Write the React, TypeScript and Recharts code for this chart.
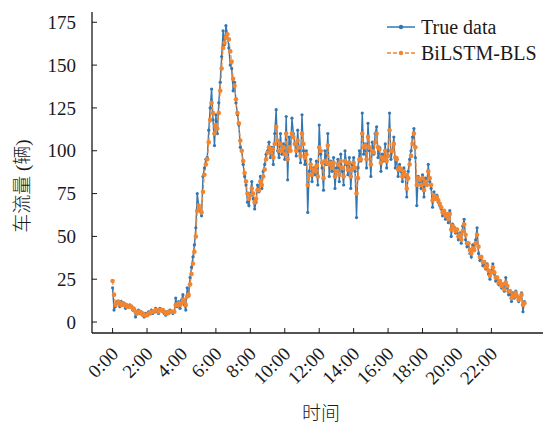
import React from 'react';
import { LineChart, Line, XAxis, YAxis, Legend } from 'recharts';

const TIME_LABELS = ['0:00', '2:00', '4:00', '6:00', '8:00', '10:00', '12:00', '14:00', '16:00', '18:00', '20:00', '22:00'];
const POINTS_PER_TICK = 24;
const Y_TICKS = [0, 25, 50, 75, 100, 125, 150, 175];

const TRUE_DATA = [
  20, 7, 9, 12, 11, 9, 12, 10, 11, 8, 10, 9,
  10, 9, 7, 8, 3, 6, 7, 5, 6, 4, 3, 5,
  4, 6, 5, 7, 5, 6, 8, 6, 5, 8, 7, 6,
  5, 4, 6, 5, 7, 6, 5, 6, 14, 9, 12, 8,
  13, 16, 10, 7, 20, 15, 26, 32, 38, 45, 55, 75,
  68, 65, 62, 85, 90, 95, 96, 112, 125, 136, 118, 103,
  121, 110, 128, 140, 155, 170, 162, 173, 168, 160, 150, 148,
  135, 140, 128, 121, 115, 102, 100, 92, 85, 80, 70, 68,
  75, 82, 72, 66, 70, 80, 76, 85, 78, 88, 92, 98,
  100, 105, 96, 102, 92, 110, 124, 100, 96, 110, 98, 104,
  95, 120, 83, 108, 100, 119, 110, 104, 97, 112, 100, 93,
  121, 100, 92, 100, 64, 88, 95, 82, 90, 86, 94, 80,
  115, 98, 90, 77, 100, 92, 110, 85, 94, 88, 96, 78,
  90, 95, 82, 98, 88, 80, 100, 92, 86, 96, 78, 92,
  96, 88, 61, 90, 100, 94, 122, 98, 104, 90, 116, 100,
  85, 105, 98, 110, 114, 96, 102, 88, 98, 94, 104, 90,
  100, 122, 95, 100, 108, 90, 96, 85, 92, 88, 82, 90,
  85, 73, 88, 95, 100, 108, 113, 96, 68, 85, 82, 78,
  86, 73, 84, 80, 92, 82, 78, 67, 76, 72, 74, 70,
  68, 66, 62, 65, 60, 63, 58, 65, 50, 57, 55, 52,
  54, 48, 52, 46, 56, 60, 48, 44, 46, 40, 38, 45,
  42, 48, 55, 40, 36, 38, 33, 35, 31, 34, 28, 25,
  30, 34, 28, 24, 26, 22, 24, 20, 22, 18, 26, 20,
  16, 18, 12, 17, 14, 18, 15, 12, 14, 17, 6, 12,
];

const PRED_DATA = [
  24, 16, 10, 11, 12, 11, 10, 11, 10, 10, 9, 9,
  9, 9, 8, 7, 6, 5, 6, 6, 5, 5, 4, 4,
  4, 5, 5, 6, 6, 6, 7, 7, 6, 7, 7, 7,
  6, 5, 5, 6, 6, 6, 6, 6, 10, 10, 11, 10,
  11, 13, 13, 10, 15, 16, 22, 28, 34, 41, 50, 65,
  68, 66, 64, 76, 86, 92, 95, 105, 118, 128, 122, 110,
  115, 113, 122, 135, 148, 160, 163, 166, 168, 165, 158, 152,
  142, 138, 130, 122, 116, 106, 100, 94, 87, 82, 75, 72,
  74, 78, 75, 70, 72, 77, 77, 82, 80, 85, 89, 95,
  99, 102, 99, 101, 96, 104, 114, 106, 100, 104, 100, 102,
  98, 110, 95, 102, 100, 110, 108, 104, 100, 106, 102, 97,
  110, 104, 96, 98, 80, 86, 92, 86, 89, 88, 91, 85,
  102, 100, 93, 84, 94, 93, 103, 92, 93, 90, 93, 85,
  88, 92, 86, 94, 90, 85, 94, 93, 89, 93, 85, 89,
  93, 90, 75, 84, 95, 95, 110, 102, 103, 95, 108, 102,
  92, 100, 99, 105, 110, 102, 101, 93, 96, 95, 100, 94,
  97, 112, 100, 100, 104, 96, 95, 89, 90, 89, 85, 88,
  86, 78, 84, 92, 97, 104, 110, 102, 80, 84, 83, 80,
  84, 77, 82, 80, 88, 84, 80, 71, 74, 72, 73, 71,
  69, 67, 64, 65, 62, 63, 60, 63, 54, 56, 55, 53,
  54, 50, 51, 48, 53, 57, 51, 46, 46, 42, 40, 43,
  42, 46, 51, 44, 38, 38, 35, 35, 32, 33, 30, 27,
  29, 32, 29, 26, 26, 23, 24, 21, 22, 19, 23, 21,
  18, 18, 14, 16, 15, 17, 15, 13, 14, 16, 10, 11,
];

const SERIES = [
  { key: 'truth', name: 'True data', color: '#3277b3', dash: undefined as string | undefined, r: 1.6, w: 1.4 },
  { key: 'pred', name: 'BiLSTM-BLS', color: '#f28530', dash: '4 2', r: 2.3, w: 1.2 },
];

const data = TRUE_DATA.map((v, i) => ({ i, truth: v, pred: PRED_DATA[i] }));
const xTicks = TIME_LABELS.map((_, k) => k * POINTS_PER_TICK);

const SERIF = '"Liberation Serif", "Times New Roman", serif';
const CJK = '"Liberation Serif", "Noto Sans CJK SC", serif';
const X_DOMAIN: [number, number] = [-14.35, 301.35];
const Y_DOMAIN: [number, number] = [-6.4, 181];

const XTick = (props: any) => {
  const { x, y, payload } = props;
  const label = TIME_LABELS[Math.round(payload.value / POINTS_PER_TICK)];
  return (
    <g transform={`translate(${x},${y})`}>
      <text
        x={0}
        y={0}
        transform="translate(7,22) rotate(-45)"
        textAnchor="end"
        fontFamily={SERIF}
        fontSize={19}
        fill="#1a1a1a"
      >
        {label}
      </text>
    </g>
  );
};

const LegendContent = () => (
  <div style={{ fontFamily: SERIF, fontSize: 20, color: '#1a1a1a', lineHeight: '26px' }}>
    {SERIES.map((s) => (
      <div key={s.key} style={{ display: 'flex', alignItems: 'center', height: 26 }}>
        <svg width={30} height={10} style={{ display: 'block' }}>
          <line x1={1} x2={29} y1={5} y2={5} stroke={s.color} strokeWidth={1.5} strokeDasharray={s.dash} />
          <circle cx={15} cy={5} r={2.2} fill={s.color} />
        </svg>
        <span style={{ marginLeft: 5, whiteSpace: 'nowrap' }}>{s.name}</span>
      </div>
    ))}
  </div>
);

export default function App() {
  return (
    <div style={{ position: 'absolute', left: 0, top: 0, width: 543, height: 423, overflow: 'hidden', background: '#fff' }}>
      <LineChart width={560} height={423} data={data} margin={{ top: 12, right: 15, bottom: 0, left: 0 }}>
        <XAxis
          xAxisId="top"
          orientation="top"
          dataKey="i"
          type="number"
          domain={X_DOMAIN}
          allowDataOverflow
          tick={false}
          tickLine={false}
          height={0}
          axisLine={{ stroke: '#1a1a1a', strokeWidth: 1.3 }}
        />
        <XAxis
          dataKey="i"
          type="number"
          domain={X_DOMAIN}
          allowDataOverflow
          ticks={xTicks}
          interval={0}
          tick={<XTick />}
          tickSize={-5}
          tickMargin={5}
          height={90}
          axisLine={{ stroke: '#1a1a1a', strokeWidth: 1.3 }}
          tickLine={{ stroke: '#1a1a1a', strokeWidth: 1 }}
          label={(p: any) => (
            <text x={321} y={413} textAnchor="middle" dominantBaseline="central" fontFamily={CJK} fontWeight={300} fontSize={19} fill="#1a1a1a">
              时间
            </text>
          )}
        />
        <YAxis
          type="number"
          domain={Y_DOMAIN}
          allowDataOverflow
          ticks={Y_TICKS}
          interval={0}
          width={92}
          tickSize={-5}
          tickMargin={21}
          tick={{ fontFamily: SERIF, fontSize: 19, fill: '#1a1a1a' }}
          axisLine={{ stroke: '#1a1a1a', strokeWidth: 1.3 }}
          tickLine={{ stroke: '#1a1a1a', strokeWidth: 1 }}
          label={(p: any) => (
            <text
              x={22}
              y={186}
              transform="rotate(-90,22,186)"
              textAnchor="middle"
              dominantBaseline="central"
              fontFamily={CJK}
              fontWeight={300}
              fontSize={19}
              fill="#1a1a1a"
            >
              车流量 (辆)
            </text>
          )}
        />
        <Legend
          layout="vertical"
          align="center"
          verticalAlign="middle"
          content={<LegendContent />}
          wrapperStyle={{ position: 'absolute', left: 386, top: 14, width: 160, height: 52 }}
        />
        {SERIES.map((s) => (
          <Line
            key={s.key}
            dataKey={s.key}
            name={s.name}
            type="linear"
            stroke={s.color}
            strokeWidth={s.w}
            strokeDasharray={s.dash}
            dot={{ r: s.r, fill: s.color, stroke: s.color, strokeWidth: 0 }}
            activeDot={false}
            isAnimationActive={false}
          />
        ))}
      </LineChart>
    </div>
  );
}
